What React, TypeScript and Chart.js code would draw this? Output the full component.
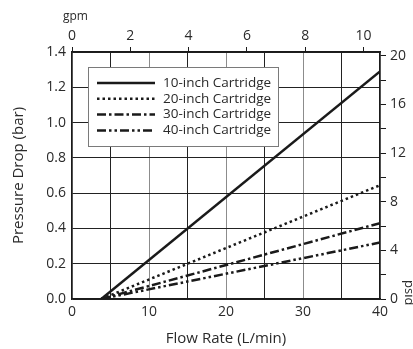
import { useEffect, useRef } from 'react';
import { Chart, registerables } from 'chart.js';

Chart.register(...registerables);

// ---- data ----
const seriesLabels = ['10-inch Cartridge', '20-inch Cartridge', '30-inch Cartridge', '40-inch Cartridge'];
const flowRate = [3.8, 40]; // L/min
const drop10 = [0, 1.29]; // bar
const drop20 = [0, 0.645];
const drop30 = [0, 0.43];
const drop40 = [0, 0.32];
const flowTickLabels = [0, 10, 20, 30, 40];
const barTickLabels = [0, 0.2, 0.4, 0.6, 0.8, 1.0, 1.2, 1.4];
const gpmTickLabels = [0, 2, 4, 6, 8, 10];
const psiTickLabels = [0, 4, 8, 12, 16, 20];
const xTitle = 'Flow Rate (L/min)';
const yTitle = 'Pressure Drop (bar)';
const topUnit = 'gpm';
const rightUnit = 'psid';

const LPM_PER_GPM = 3.78541;
const PSI_PER_BAR = 14.5038;
const X_MAX = 40;
const Y_MAX = 1.4;

const FONT = "'Open Sans', sans-serif";
const INK = '#1a1a1a';
const TEXT = '#2a2a2a';

const dashes = [[], [2.5, 3], [9, 3, 2.5, 3], [9, 3, 2.5, 3, 2.5, 3]];
const seriesValues = [drop10, drop20, drop30, drop40];

const overlay = {
  id: 'overlay',
  afterDatasetsDraw(chart: any) {
    const { ctx, chartArea } = chart;
    ctx.save();
    // legend box
    const bx = chartArea.left + 16;
    const by = chartArea.top + 15;
    const bw = 190;
    const bh = 79;
    ctx.fillStyle = '#ffffff';
    ctx.fillRect(bx, by, bw, bh);
    ctx.strokeStyle = '#7a7a7a';
    ctx.lineWidth = 1;
    ctx.strokeRect(bx + 0.5, by + 0.5, bw, bh);
    ctx.font = `13.5px ${FONT}`;
    ctx.textBaseline = 'middle';
    ctx.textAlign = 'left';
    chart.data.datasets.forEach((ds: any, i: number) => {
      const yy = by + 16 + i * 15.8;
      ctx.beginPath();
      ctx.setLineDash(ds.borderDash || []);
      ctx.lineWidth = ds.borderWidth;
      ctx.strokeStyle = INK;
      ctx.moveTo(bx + 9, yy);
      ctx.lineTo(bx + 67, yy);
      ctx.stroke();
      ctx.setLineDash([]);
      ctx.fillStyle = TEXT;
      ctx.fillText(ds.label, bx + 75, yy);
    });
    ctx.restore();
  },
  afterDraw(chart: any) {
    const { ctx, chartArea } = chart;
    ctx.save();
    ctx.fillStyle = TEXT;
    ctx.font = `12px ${FONT}`;
    ctx.textAlign = 'left';
    ctx.textBaseline = 'middle';
    ctx.fillText(topUnit, chartArea.left - 9, 17);
    ctx.font = `13px ${FONT}`;
    ctx.translate(chartArea.right + 29, chartArea.bottom - 19);
    ctx.rotate(Math.PI / 2);
    ctx.fillText(rightUnit, 0, 0);
    ctx.restore();
  },
};

export default function App() {
  const ref = useRef<HTMLCanvasElement>(null);
  useEffect(() => {
    if (!ref.current) return;
    Chart.defaults.font.family = FONT;
    const chart = new Chart(ref.current, {
      type: 'line',
      data: {
        datasets: seriesLabels.map((label, i) => ({
          label,
          data: flowRate.map((x, j) => ({ x, y: seriesValues[i][j] })),
          borderColor: INK,
          borderWidth: 2.5,
          borderDash: dashes[i],
          borderCapStyle: 'butt',
          pointRadius: 0,
          fill: false,
          tension: 0,
          xAxisID: 'x',
          yAxisID: 'y',
        })),
      },
      options: {
        responsive: false,
        animation: false,
        layout: { padding: 0 },
        plugins: { legend: { display: false }, tooltip: { enabled: false }, title: { display: false } },
        scales: {
          x: {
            type: 'linear',
            position: 'bottom',
            min: 0,
            max: X_MAX,
            afterFit: (s: any) => { s.height = 50; },
            border: { display: true, color: INK, width: 1.5 },
            grid: {
              drawTicks: false,
              lineWidth: 1,
              color: (c: any) => (c.tick && c.tick.value % 10 === 0 ? '#8c8c8c' : '#222222'),
            },
            ticks: {
              stepSize: 5,
              padding: 5,
              color: TEXT,
              font: { size: 14 },
              maxRotation: 0,
              autoSkip: false,
              callback: (v: any) => (flowTickLabels.includes(Number(v)) ? String(v) : ''),
            },
            title: { display: true, text: xTitle, color: TEXT, font: { size: 15 }, padding: { bottom: 1, top: 0 } },
          },
          x2: {
            type: 'linear',
            position: 'top',
            min: 0,
            max: X_MAX / LPM_PER_GPM,
            afterFit: (s: any) => { s.height = 52; },
            border: { display: true, color: INK, width: 1.5 },
            grid: { drawOnChartArea: false, drawTicks: true, tickLength: 5, tickColor: INK, lineWidth: 1 },
            ticks: {
              stepSize: 2,
              includeBounds: false,
              padding: 3,
              color: TEXT,
              font: { size: 14 },
              maxRotation: 0,
              autoSkip: false,
              callback: (v: any) => (gpmTickLabels.includes(Number(v)) ? String(v) : ''),
            },
          },
          y: {
            type: 'linear',
            position: 'left',
            min: 0,
            max: Y_MAX,
            afterFit: (s: any) => { s.width = 72; },
            border: { display: true, color: INK, width: 1.5 },
            grid: { drawTicks: false, color: '#222222', lineWidth: 1 },
            ticks: {
              stepSize: 0.2,
              padding: 6,
              color: TEXT,
              font: { size: 14 },
              autoSkip: false,
              callback: (v: any) => {
                const n = Math.round(Number(v) * 10) / 10;
                return barTickLabels.includes(n) ? n.toFixed(1) : '';
              },
            },
            title: { display: true, text: yTitle, color: TEXT, font: { size: 15 }, padding: { top: 10, bottom: 0 } },
          },
          y2: {
            type: 'linear',
            position: 'right',
            min: 0,
            max: Y_MAX * PSI_PER_BAR,
            afterFit: (s: any) => { s.width = 45; },
            border: { display: true, color: INK, width: 1.5 },
            grid: { drawOnChartArea: false, drawTicks: true, tickLength: 6, tickColor: INK, lineWidth: 1 },
            ticks: {
              stepSize: 2,
              includeBounds: false,
              padding: 4,
              color: TEXT,
              font: { size: 14 },
              autoSkip: false,
              callback: (v: any) => (psiTickLabels.includes(Number(v)) ? String(v) : ''),
            },
          },
        },
      },
      plugins: [overlay],
    } as any);
    return () => chart.destroy();
  }, []);
  return (
    <div style={{ position: 'fixed', left: 0, top: 0, width: 413, height: 349, overflow: 'hidden', background: '#fff' }}>
      <canvas ref={ref} width={425} height={349} style={{ width: 425, height: 349, display: 'block' }} />
    </div>
  );
}
